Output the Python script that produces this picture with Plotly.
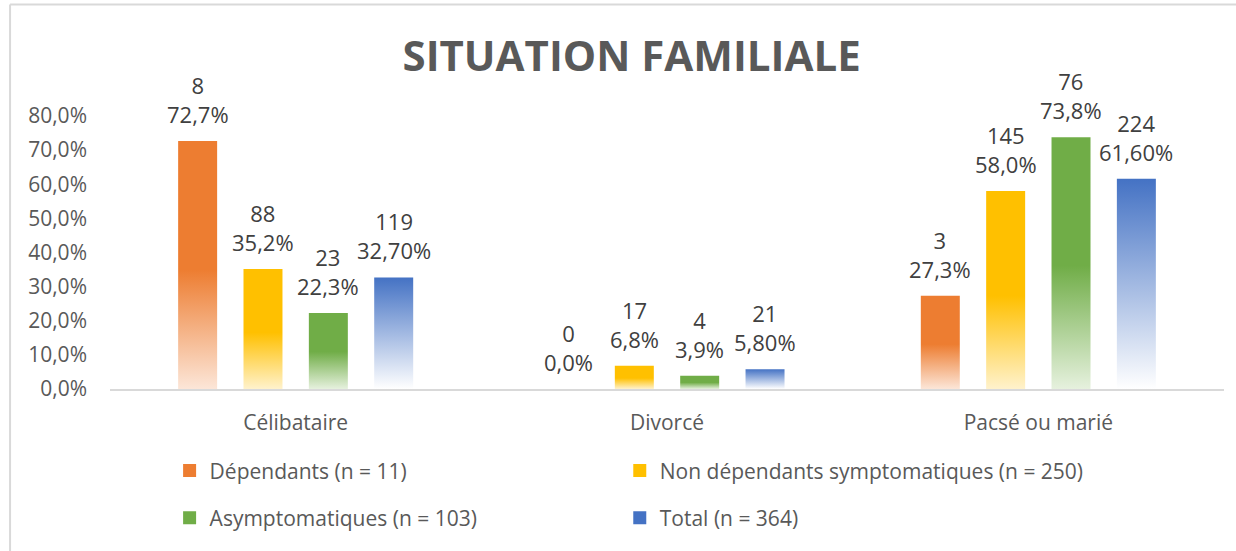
import plotly.graph_objects as go

# categories and series
categories = ["Célibataire", "Divorcé", "Pacsé ou marié"]
series_names = ["Dépendants (n = 11)",
                "Non dépendants symptomatiques (n = 250)",
                "Asymptomatiques (n = 103)",
                "Total (n = 364)"]

dependants_n = [8, 0, 3]
dependants_pct = [72.7, 0.0, 27.3]
non_dep_n = [88, 17, 145]
non_dep_pct = [35.2, 6.8, 58.0]
asympto_n = [23, 4, 76]
asympto_pct = [22.3, 3.9, 73.8]
total_n = [119, 21, 224]
total_pct = [32.7, 5.8, 61.6]

pct_decimals = [1, 1, 1, 2]
y_ticks = [0, 10, 20, 30, 40, 50, 60, 70, 80]
y_ticktext = [f"{t:.1f}%".replace('.', ',') for t in y_ticks]

counts = [dependants_n, non_dep_n, asympto_n, total_n]
pcts = [dependants_pct, non_dep_pct, asympto_pct, total_pct]

colors = ['#ED7D31', '#FFC000', '#70AD47', '#4472C4']
# gradient: light at the bottom, full colour from about mid-height
gradients = [
    [[0, '#FCE6D8'], [0.48, '#ED7D31'], [1, '#ED7D31']],
    [[0, '#FFF2CC'], [0.47, '#FFC000'], [1, '#FFC000']],
    [[0, '#E6F1DE'], [0.49, '#70AD47'], [1, '#70AD47']],
    [[0, '#FFFFFF'], [1, '#4472C4']],
]

slot = 0.176
bar_w = 0.105

TXT = '#595959'
LBL = '#404040'
FONT = 'Open Sans'

fig = go.Figure()
annotations = []

for j in range(len(series_names)):
    for i, cat in enumerate(categories):
        v = pcts[j][i]
        xc = i + (j - 1.5) * slot
        if v > 0:
            fig.add_trace(go.Scatter(
                x=[xc - bar_w / 2, xc + bar_w / 2, xc + bar_w / 2, xc - bar_w / 2, xc - bar_w / 2],
                y=[0, 0, v, v, 0],
                mode='lines',
                fill='toself',
                line=dict(width=0, color=colors[j]),
                fillgradient=dict(type='vertical', colorscale=gradients[j]),
                hoverinfo='skip',
                showlegend=False))
        pct_txt = f"{v:.{pct_decimals[j]}f}%".replace('.', ',')
        annotations.append(dict(
            x=xc, y=v, xref='x', yref='y',
            text=f"{counts[j][i]}<br>{pct_txt}",
            showarrow=False, yanchor='bottom', yshift=10,
            font=dict(family=FONT, size=22, color=LBL)))

# legend entries, one legend per entry to place them like the original
legend_pos = [(0.0535, -0.300), (0.4576, -0.300), (0.0535, -0.4725), (0.4576, -0.4725)]
legend_ids = ['legend', 'legend2', 'legend3', 'legend4']
for j, name in enumerate(series_names):
    fig.add_trace(go.Scatter(
        x=[None], y=[None], mode='markers', name=name,
        marker=dict(symbol='square', size=13, color=colors[j]),
        legend=legend_ids[j]))

legend_common = dict(orientation='h', xanchor='left', yanchor='middle',
                     font=dict(family=FONT, size=21, color=TXT),
                     bgcolor='rgba(0,0,0,0)')

# outer frame: only the left and top edges are visible in the crop
frame = dict(color='#D9D9D9', width=2)
shapes = [
    dict(type='line', xref='paper', yref='paper', x0=-0.0897, x1=-0.0897,
         y0=-1.0, y1=1.408, line=frame, layer='below'),
    dict(type='line', xref='paper', yref='paper', x0=-0.0897, x1=1.2,
         y0=1.408, y1=1.408, line=frame, layer='below'),
]

fig.update_layout(
    width=1236, height=551,
    margin=dict(l=110, r=12, t=116, b=162),
    paper_bgcolor='white', plot_bgcolor='white',
    title=dict(text='<b>SITUATION FAMILIALE</b>', x=0.511, xref='container',
               xanchor='center', y=0.898, yref='container', yanchor='middle',
               font=dict(family=FONT, size=42, color=TXT)),
    xaxis=dict(range=[-0.5, 2.5], tickvals=[0, 1, 2], ticktext=categories,
               showgrid=False, zeroline=False, showline=True,
               linecolor='#D9D9D9', linewidth=2, ticks='',
               ticklabelstandoff=14,
               tickfont=dict(family=FONT, size=21, color=TXT)),
    yaxis=dict(range=[0, 80], tickvals=y_ticks, ticktext=y_ticktext,
               showgrid=False, zeroline=False, showline=False, ticks='',
               ticklabelstandoff=22,
               tickfont=dict(family=FONT, size=21, color=TXT)),
    legend=dict(x=legend_pos[0][0], y=legend_pos[0][1], **legend_common),
    legend2=dict(x=legend_pos[1][0], y=legend_pos[1][1], **legend_common),
    legend3=dict(x=legend_pos[2][0], y=legend_pos[2][1], **legend_common),
    legend4=dict(x=legend_pos[3][0], y=legend_pos[3][1], **legend_common),
    annotations=annotations,
    shapes=shapes,
)

# drop the default page margin so the 1236x551 figure fills the window
fig.write_html("out.html", config={'displayModeBar': False},
               post_script="document.body.style.margin='0';")
